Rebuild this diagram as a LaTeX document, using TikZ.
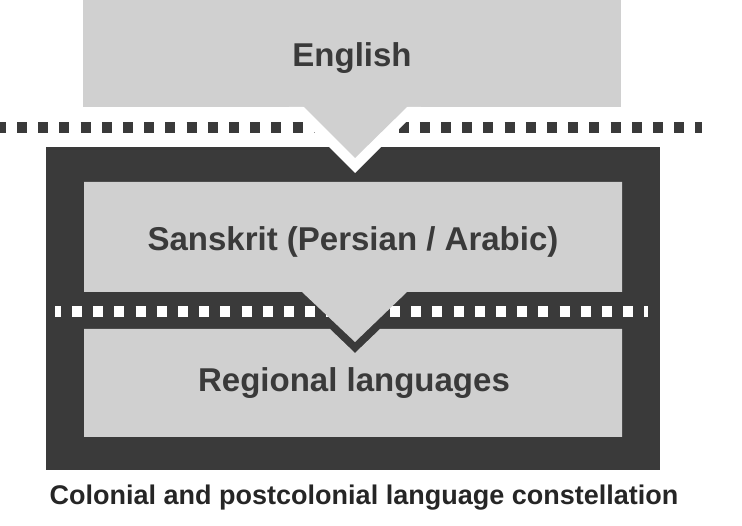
\documentclass[tikz,border=0pt]{standalone}
\usepackage{fontspec}
\setmainfont{Liberation Sans}
\definecolor{frame}{HTML}{3A3A3A}
\definecolor{pale}{HTML}{D0D0D0}
\definecolor{ink}{HTML}{3A3A3A}
\tikzset{
  langtext/.style={font=\fontsize{33}{38}\selectfont\bfseries, text=ink},
  squares/.style={line width=11pt, dash pattern=on 10pt off 11.2pt, dash phase=4.2pt},
}
\begin{document}
\begin{tikzpicture}[x=1pt,y=-1pt]
  \useasboundingbox (0,0) rectangle (742,526);
  % \draw[help lines, step=50] (0,0) grid (742,526);

  % English block
  \coordinate (E1) at (83,0); \coordinate (E2) at (621,107);
  \fill [pale] (E1) rectangle (E2);

  % upper dotted border
  \coordinate (D1) at (0,128); \coordinate (D2) at (702,128);
  \draw [squares, frame] (D1) -- (D2);

  % dark frame
  \coordinate (F1) at (46,147); \coordinate (F2) at (660,470);
  \fill [frame] (F1) rectangle (F2);

  % tip of the English block with its white rim
  \coordinate (W) at (355,173);
  \fill [white] (289,107) -- (421,107) -- (W) -- cycle;
  \coordinate (P) at (355,158);
  \fill [pale] (303,106) -- (408,106) -- (P) -- cycle;

  % lower dotted border, under the Sanskrit tip
  \coordinate (M1) at (55,311.5); \coordinate (M2) at (648,311.5);
  \draw [squares, white] (M1) -- (M2);

  % Sanskrit panel
  \coordinate (S) at (355,342);
  \fill [pale] (84,182) -- (622,182) -- (622,292) -- (407,292) -- (S) -- (302,292) -- (84,292) -- cycle;

  % regional panel
  \coordinate (R) at (355,353);
  \fill [pale] (84,329) -- (330,329) -- (R) -- (380,329) -- (622,329) -- (622,437) -- (84,437) -- cycle;

  \node (en) at (352,58) [langtext] {English};
  \node (sa) at (353,242) [langtext] {Sanskrit (Persian / Arabic)};
  \node (re) at (354,383) [langtext] {Regional languages};
  \node (cap) at (364,498) [font=\fontsize{27}{31}\selectfont\bfseries, text=black!85] {Colonial and postcolonial language constellation};
\end{tikzpicture}
\end{document}
